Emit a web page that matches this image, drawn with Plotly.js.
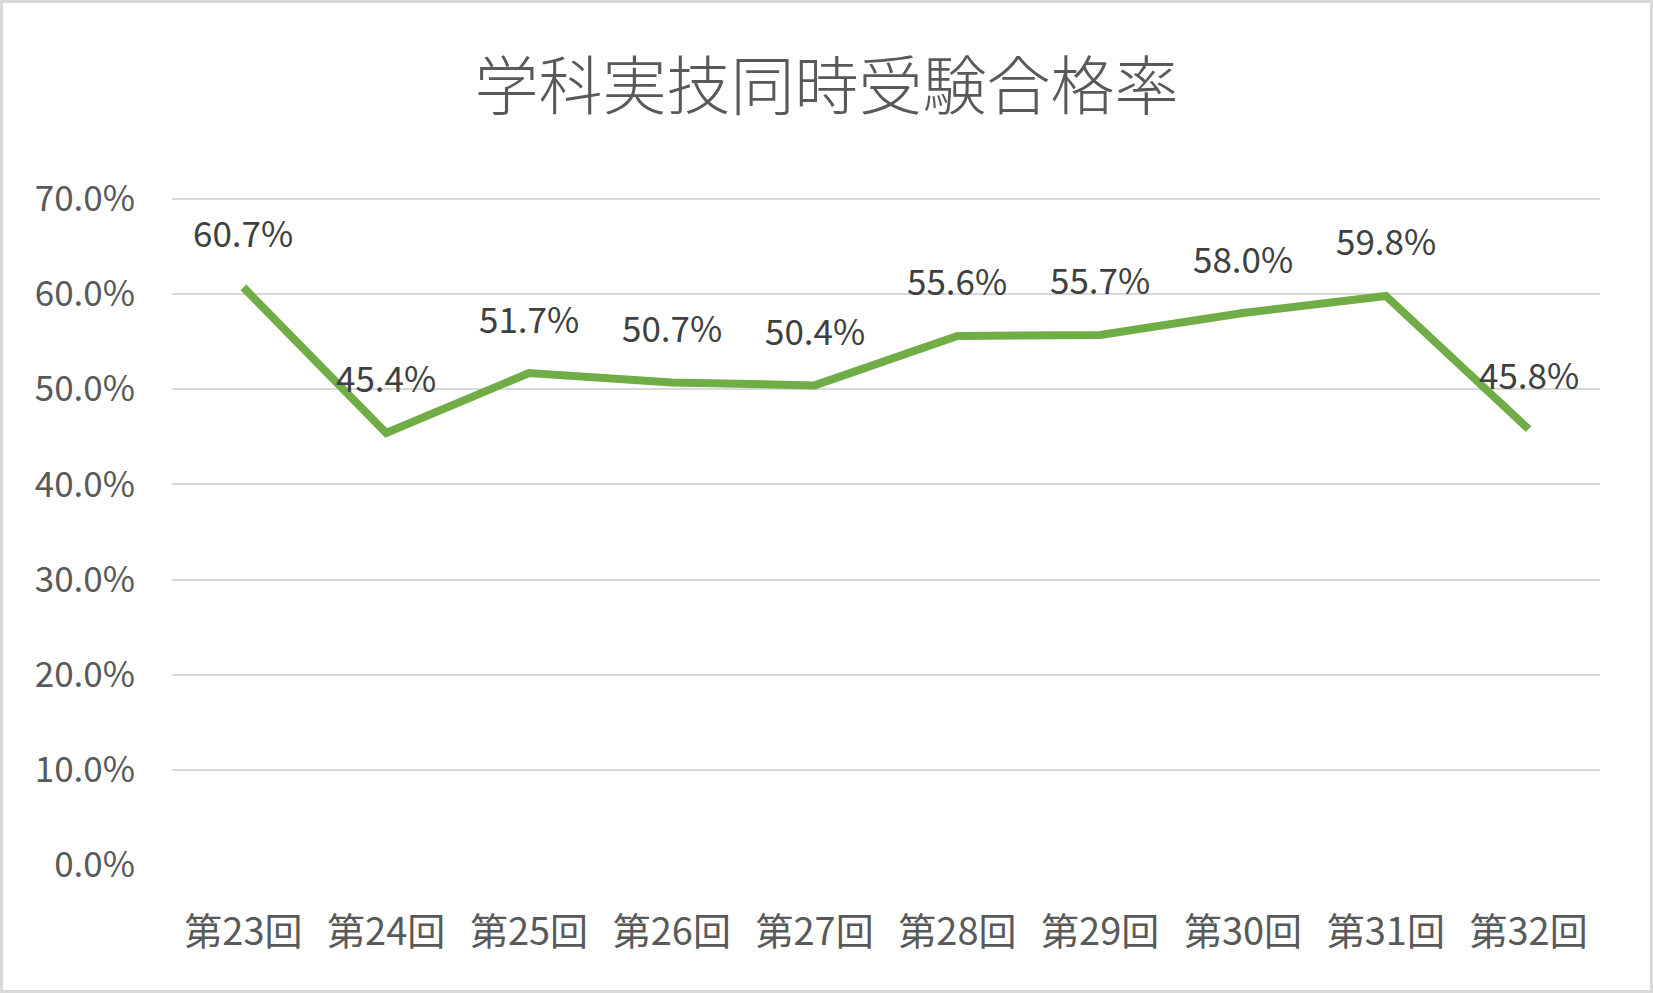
<!DOCTYPE html>
<html>
<head>
<meta charset="utf-8">
<script src="https://cdn.plot.ly/plotly-3.0.1.min.js"></script>
<style>
  body { margin: 0; background: #fff; }
  #chart { width: 1653px; height: 993px; box-sizing: border-box; border: 3px solid #d9d9d9; }
</style>
</head>
<body>
<div id="chart"></div>
<script>
var categories = ["第23回", "第24回", "第25回", "第26回", "第27回", "第28回", "第29回", "第30回", "第31回", "第32回"];
var passRate = [0.607, 0.454, 0.517, 0.507, 0.504, 0.556, 0.557, 0.580, 0.598, 0.458];
var rateLabels = ["60.7%", "45.4%", "51.7%", "50.7%", "50.4%", "55.6%", "55.7%", "58.0%", "59.8%", "45.8%"];
var yTicks = [0, 0.1, 0.2, 0.3, 0.4, 0.5, 0.6, 0.7];

var FONT = "'Noto Sans CJK JP', 'Noto Sans', sans-serif";

// data labels sit above each point, like Excel's "above" position
var labels = [];
for (var i = 0; i < categories.length; i++) {
    labels.push({
        x: categories[i],
        y: passRate[i],
        text: rateLabels[i],
        showarrow: false,
        yshift: 56,
        font: {family: FONT, size: 35, color: "#404040"}
    });
}

Plotly.newPlot("chart", [{
    x: categories,
    y: passRate,
    type: "scatter",
    mode: "lines",
    line: {color: "#70ad47", width: 8},
    hoverinfo: "none"
}], {
    width: 1647,
    height: 987,
    margin: {l: 169, r: 50, t: 193, b: 125},
    paper_bgcolor: "#fff",
    plot_bgcolor: "#fff",
    showlegend: false,
    title: {
        text: "学科実技同時受験合格率",
        font: {family: FONT, size: 64, color: "#595959", weight: 300},
        x: 0.5,
        xanchor: "center",
        y: 0.915,
        yanchor: "middle"
    },
    xaxis: {
        type: "category",
        range: [-0.5, 9.5],
        showgrid: false,
        showline: false,
        zeroline: false,
        ticks: "outside",
        ticklen: 0,
        ticklabelstandoff: 33,
        tickfont: {family: FONT, size: 38, color: "#595959"}
    },
    yaxis: {
        // a little headroom so the 70% gridline is not dropped at the edge
        range: [0, 0.703],
        tickvals: yTicks,
        tickformat: ".1%",
        showgrid: true,
        gridcolor: "#d9d9d9",
        gridwidth: 2,
        zeroline: false,
        showline: false,
        ticklabelstandoff: 36,
        tickfont: {family: FONT, size: 35, color: "#595959"}
    },
    annotations: labels
}, {displayModeBar: false, staticPlot: true});
</script>
</body>
</html>
